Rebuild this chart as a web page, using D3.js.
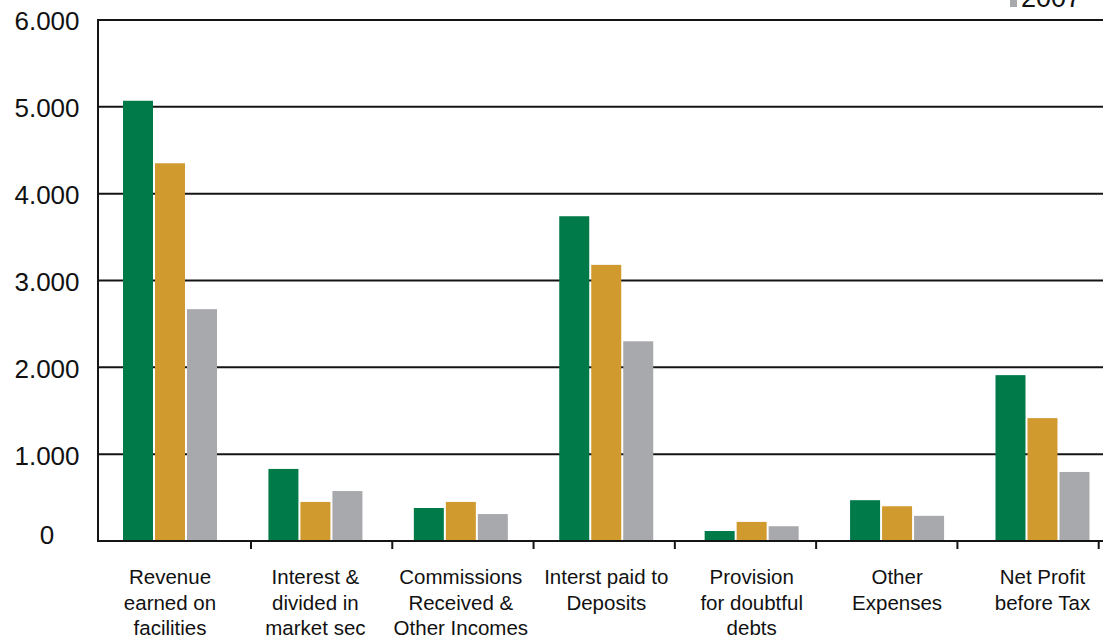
<!DOCTYPE html>
<html>
<head>
<meta charset="utf-8">
<script src="https://cdn.jsdelivr.net/npm/d3@7"></script>
<style>
  html, body { margin: 0; padding: 0; background: #fff; }
  svg { display: block; font-family: "Liberation Sans", Arial, Helvetica, sans-serif; }
</style>
</head>
<body>
<svg id="chart" width="1103" height="636"></svg>
<script>
// Income statement items (thousands), three years
const categories = [
  ["Revenue", "earned on", "facilities"],
  ["Interest &", "divided in", "market sec"],
  ["Commissions", "Received &", "Other Incomes"],
  ["Interst paid to", "Deposits"],
  ["Provision", "for doubtful", "debts"],
  ["Other", "Expenses"],
  ["Net Profit", "before Tax"]
];
const seriesNames = ["2009", "2008", "2007"];
const values2009 = [5070, 830, 380, 3740, 115, 470, 1910];
const values2008 = [4350, 450, 450, 3180, 220, 400, 1415];
const values2007 = [2670, 575, 310, 2300, 170, 290, 795];
const yTicks = [0, 1000, 2000, 3000, 4000, 5000, 6000];
const yTickLabels = ["0", "1.000", "2.000", "3.000", "4.000", "5.000", "6.000"];
const colors = ["#007a49", "#d09a2e", "#a8a9ac"];

const seriesValues = [values2009, values2008, values2007];
const catKeys = categories.map(c => c.join(" "));

const svg = d3.select("#chart");
const W = 1103;
const axisX = 98, plotTop = 20, plotBottom = 541;

const y = d3.scaleLinear().domain([0, 6000]).range([plotBottom, plotTop]);

// bar groups
const x0 = d3.scaleBand().domain(catKeys).range([97.3, 1115.2]).padding(0);
const x1 = d3.scaleBand().domain(seriesNames).range([25.7, 119.7]).paddingInner(0.0625).paddingOuter(0);
// category divider ticks on the x axis
const xTick = d3.scaleBand().domain(catKeys).range([109.7, 1098.7]).padding(0);

// horizontal gridlines
svg.append("g").selectAll("line")
  .data(yTicks.filter(t => t > 0))
  .join("line")
  .attr("x1", axisX).attr("x2", W)
  .attr("y1", d => y(d)).attr("y2", d => y(d))
  .attr("stroke", "#151515").attr("stroke-width", 2);

// bars
const groups = svg.append("g").selectAll("g")
  .data(catKeys)
  .join("g")
  .attr("transform", d => `translate(${x0(d)},0)`);

groups.selectAll("rect")
  .data((d, i) => seriesNames.map((s, j) => ({ s, j, v: seriesValues[j][i] })))
  .join("rect")
  .attr("x", d => x1(d.s))
  .attr("width", x1.bandwidth())
  .attr("y", d => y(d.v))
  .attr("height", d => y(0) - y(d.v))
  .attr("fill", d => colors[d.j]);

// axes lines
svg.append("line")
  .attr("x1", axisX).attr("x2", axisX)
  .attr("y1", y(6000) - 1).attr("y2", y(0) + 1)
  .attr("stroke", "#151515").attr("stroke-width", 2);
svg.append("line")
  .attr("x1", axisX - 1).attr("x2", W)
  .attr("y1", y(0)).attr("y2", y(0))
  .attr("stroke", "#151515").attr("stroke-width", 2);

// x axis divider ticks
svg.append("g").selectAll("line")
  .data(catKeys)
  .join("line")
  .attr("x1", d => xTick(d) + xTick.bandwidth())
  .attr("x2", d => xTick(d) + xTick.bandwidth())
  .attr("y1", y(0)).attr("y2", y(0) + 8)
  .attr("stroke", "#151515").attr("stroke-width", 2);

// y tick labels
svg.append("g").selectAll("text")
  .data(yTicks)
  .join("text")
  .attr("x", 47)
  .attr("y", d => y(d) + (d === 0 ? -6 : 1))
  .attr("dy", "0.36em")
  .attr("text-anchor", "middle")
  .attr("font-size", 26)
  .attr("fill", "#111")
  .text((d, i) => yTickLabels[i]);

// category labels
const lab = svg.append("g").selectAll("text")
  .data(categories)
  .join("text")
  .attr("text-anchor", "middle")
  .attr("font-size", 20.5)
  .attr("fill", "#111")
  .attr("transform", (d, i) => `translate(${x0(catKeys[i]) + x0.bandwidth() / 2},577)`);
lab.selectAll("tspan")
  .data(d => d)
  .join("tspan")
  .attr("x", 0)
  .attr("y", (d, i) => i * 25.3)
  .attr("dy", "0.36em")
  .text(d => d);

// legend (stacked, top right)
const leg = svg.append("g").selectAll("g")
  .data(seriesNames)
  .join("g")
  .attr("transform", (d, i) => `translate(1010,${7 - (2 - i) * 28})`);
leg.append("rect")
  .attr("x", 0).attr("y", -9).attr("width", 7).attr("height", 9)
  .attr("fill", (d, i) => colors[i]);
leg.append("text")
  .attr("x", 11).attr("y", 0)
  .attr("font-size", 27)
  .attr("fill", "#111")
  .text(d => d);
</script>
</body>
</html>
